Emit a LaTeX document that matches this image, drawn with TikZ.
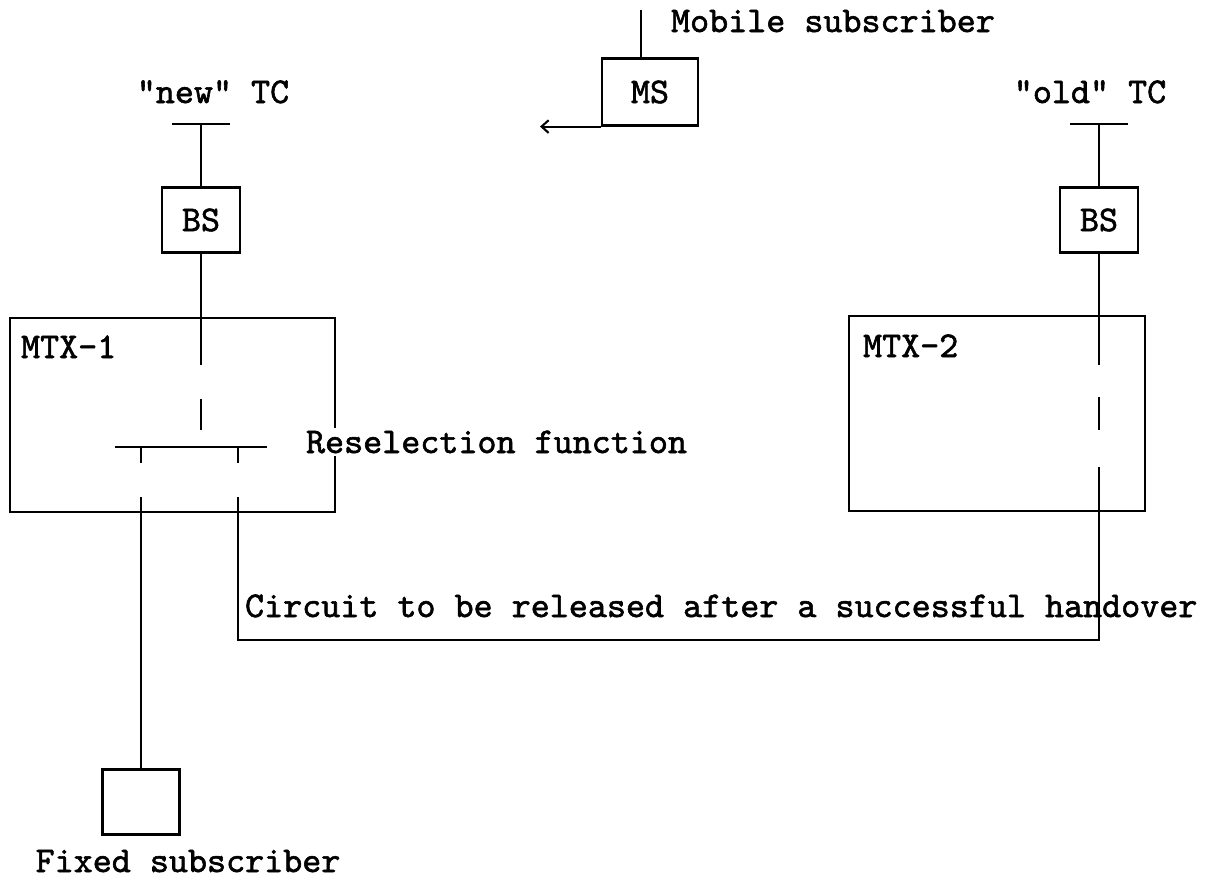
\documentclass[tikz,border=0pt]{standalone}
\usepackage{fontspec}
\setmonofont{lmmono10-regular.otf}[Ligatures=TeXOff, FakeBold=1.6]
\usetikzlibrary{positioning}
\usetikzlibrary{arrows.meta}
\newlength{\linew}
\setlength{\linew}{1.5pt}

\begin{document}
\begin{tikzpicture}[x=0.025cm, y=-0.025cm, line width=\linew,
  every node/.style={font=\ttfamily\fontsize{25.8}{29}\selectfont, inner sep=0pt},
  box/.style={rectangle, draw=black, line width=\linew}]

\useasboundingbox (0,0) rectangle (1216,883);

% mobile subscriber
\node[box, minimum width=2.4cm, minimum height=1.675cm](ms) at (650,92){MS};
\coordinate(msant) at (641,10);
\coordinate(msarrow) at (540,125);
\node[anchor=base west](mslabel) at (670,32){Mobile subscriber};
\draw[-] (ms.north -| msant) -- (msant);
\draw[-{Straight Barb[length=5pt, width=9pt]}] (ms.south west) -- (ms.south west -| msarrow);

% "new" side
\node[anchor=base](newtc) at (213,103){"new" TC};
\coordinate(newt) at (201,124);
\draw[-] ([xshift=-29*0.025cm]newt) -- ([xshift=29*0.025cm]newt);
\node[box, minimum width=1.95cm, minimum height=1.625cm](bs1) at (201,220){BS};
\draw[-] (newt) -- (bs1.north);

\node[box, minimum width=8.125cm, minimum height=4.85cm](mtx1) at (172.5,415){};
\node[anchor=base west](mtx1label) at (20,358){MTX-1};
\coordinate(in1a) at (201,365);
\coordinate(in1b) at (201,399);
\coordinate(in1c) at (201,430);
\draw[-] (bs1.south) -- (in1a);
\draw[-] (in1b) -- (in1c);

% reselection function
\coordinate(resl) at (115,447);
\coordinate(resr) at (267,447);
\draw[-] (resl) -- (resr);
\node[anchor=base west, fill=white, inner xsep=0pt, inner ysep=2pt](reslabel) at (305,453){Reselection function};
\coordinate(tickl) at (141,447);
\coordinate(tickr) at (238,447);
\draw[-] (tickl) -- ++(0,16);
\draw[-] (tickr) -- ++(0,16);

% fixed subscriber
\node[box, minimum width=1.925cm, minimum height=1.625cm](fixed) at (141,802){};
\node[anchor=base](fixedlabel) at (188,872){Fixed subscriber};
\draw[-] (141,497) -- (fixed.north);

% "old" side
\node[anchor=base](oldtc) at (1090,103){"old" TC};
\coordinate(oldt) at (1099,124);
\draw[-] ([xshift=-29*0.025cm]oldt) -- ([xshift=29*0.025cm]oldt);
\node[box, minimum width=1.95cm, minimum height=1.625cm](bs2) at (1099,220){BS};
\draw[-] (oldt) -- (bs2.north);

\node[box, minimum width=7.4cm, minimum height=4.875cm](mtx2) at (997,413.5){};
\node[anchor=base west](mtx2label) at (862,357){MTX-2};
\coordinate(in2a) at (1099,365);
\coordinate(in2b) at (1099,397);
\coordinate(in2c) at (1099,430);
\coordinate(in2d) at (1099,467);
\draw[-] (bs2.south) -- (in2a);
\draw[-] (in2b) -- (in2c);

% circuit between the two exchanges
\coordinate(circ) at (238,497);
\draw[-] (circ) |- (1099,640) -- (in2d);
\node[anchor=base west](circlabel) at (244,617){Circuit to be released after a successful handover};

\end{tikzpicture}
\end{document}
